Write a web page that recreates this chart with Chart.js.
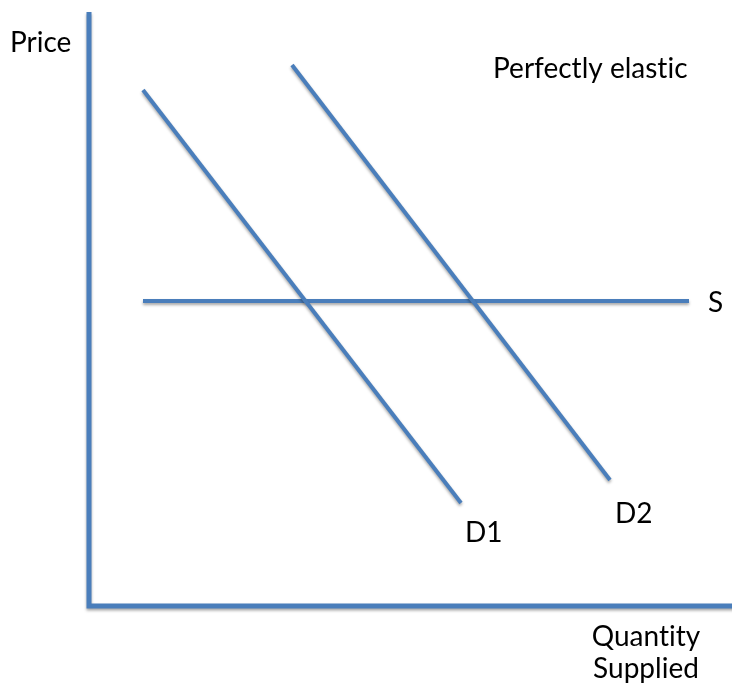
<!DOCTYPE html>
<html>
<head>
<meta charset="utf-8">
<script src="https://cdn.jsdelivr.net/npm/chart.js@4"></script>
<style>
  html, body { margin: 0; padding: 0; background: #fff; }
  #wrap { width: 732px; height: 686px; }
</style>
</head>
<body>
<div id="wrap"><canvas id="chart"></canvas></div>
<script>
const blue = "#4a7ebb";

// quantity / price in chart units (origin at the axis corner)
const axisX = [0, 0, 13];
const axisY = [11.88, 0, 0];

const d1Q = [1.08, 7.44];
const d1P = [10.32, 2.06];

const d2Q = [4.06, 10.42];
const d2P = [10.82, 2.52];

const sQ = [1.08, 12.0];
const sP = [6.1, 6.1];

const toPoints = (xs, ys) => xs.map((x, i) => ({ x: x, y: ys[i] }));

const lineSet = (xs, ys, width) => ({
  data: toPoints(xs, ys),
  borderColor: blue,
  backgroundColor: blue,
  borderWidth: width,
  pointRadius: 0,
  pointHoverRadius: 0,
  showLine: true,
  fill: false,
  tension: 0,
  borderCapStyle: "butt",
  borderJoinStyle: "miter"
});

// text labels, placed in chart units
const labels = [
  { text: "Price", x: -1.58, y: 11.08, align: "left" },
  { text: "Perfectly elastic", x: 8.08, y: 10.56, align: "left" },
  { text: "S", x: 12.38, y: 5.88, align: "left" },
  { text: "D1", x: 7.52, y: 1.28, align: "left" },
  { text: "D2", x: 10.52, y: 1.66, align: "left" },
  { text: "Quantity", x: 11.14, y: -0.8, align: "center" },
  { text: "Supplied", x: 11.14, y: -1.44, align: "center" }
];

const shadowPlugin = {
  id: "shadow",
  beforeDatasetsDraw(chart) {
    const ctx = chart.ctx;
    ctx.save();
    ctx.shadowColor = "rgba(0,0,0,0.35)";
    ctx.shadowBlur = 3;
    ctx.shadowOffsetX = 0;
    ctx.shadowOffsetY = 2;
  },
  afterDatasetsDraw(chart) {
    chart.ctx.restore();
  }
};

const textPlugin = {
  id: "texts",
  afterDraw(chart) {
    const ctx = chart.ctx;
    const xs = chart.scales.x, ys = chart.scales.y;
    ctx.save();
    ctx.fillStyle = "#000";
    ctx.font = "28px Lato, 'Open Sans', sans-serif";
    ctx.letterSpacing = "0.01px";
    ctx.textBaseline = "alphabetic";
    labels.forEach(l => {
      ctx.textAlign = l.align;
      ctx.fillText(l.text, xs.getPixelForValue(l.x), ys.getPixelForValue(l.y));
    });
    ctx.restore();
  }
};

const chart = new Chart(document.getElementById("chart"), {
  type: "scatter",
  data: {
    datasets: [
      lineSet(axisX, axisY, 5),
      lineSet(d1Q, d1P, 4),
      lineSet(d2Q, d2P, 4),
      lineSet(sQ, sP, 4)
    ]
  },
  options: {
    responsive: true,
    maintainAspectRatio: false,
    animation: false,
    layout: { padding: 0 },
    plugins: {
      legend: { display: false },
      tooltip: { enabled: false }
    },
    scales: {
      x: { type: "linear", min: -1.78, max: 12.86, display: false },
      y: { type: "linear", min: -1.6, max: 12.12, display: false }
    }
  },
  plugins: [shadowPlugin, textPlugin]
});
</script>
</body>
</html>
